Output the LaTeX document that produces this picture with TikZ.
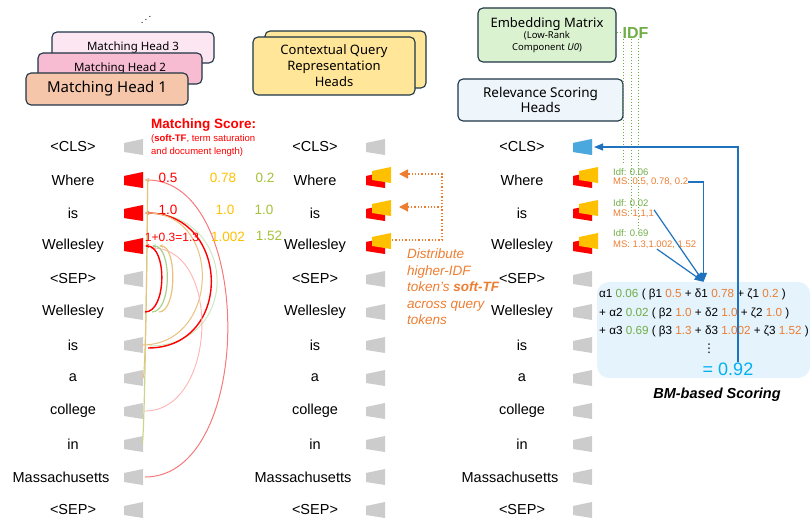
\documentclass[tikz,border=0pt]{standalone}
\usepackage{fontspec}
\setmainfont{Liberation Sans}
\newfontfamily\headfont{Noto Sans}
\newfontfamily\symfont{DejaVu Sans}
\usetikzlibrary{arrows.meta}

\definecolor{boxline}{HTML}{1E3445}
\definecolor{headone}{HTML}{F6C6AB}
\definecolor{headtwo}{HTML}{F7BCD1}
\definecolor{headthree}{HTML}{FCE6F2}
\definecolor{cqrfill}{HTML}{FFE699}
\definecolor{embfill}{HTML}{DAF2D0}
\definecolor{rshfill}{HTML}{EEF6FB}
\definecolor{tokgray}{HTML}{CCCCCC}
\definecolor{tokyellow}{HTML}{FFC000}
\definecolor{tokblue}{HTML}{4AA8DE}
\definecolor{idfgreen}{HTML}{70AD47}
\definecolor{msorange}{HTML}{ED7D31}
\definecolor{scoregreen}{HTML}{A5C03A}
\definecolor{arcsalmon}{HTML}{F47A7A}
\definecolor{arcpink}{HTML}{FFB3B3}
\definecolor{arctan}{HTML}{E8C27E}
\definecolor{arcgreen}{HTML}{A8D08D}
\definecolor{arclgreen}{HTML}{CDE8C0}
\definecolor{arcolive}{HTML}{C8D68E}
\definecolor{bluearrow}{HTML}{1F72BE}
\definecolor{fboxfill}{HTML}{E4F3FC}
\definecolor{resblue}{HTML}{00B0F0}

\newcommand{\tokshape}[3]{\fill[#3] ({#1},{#2-4}) -- ++(19,-4) -- ++(0,16) -- ++(-19,-3) -- cycle;}
\newcommand{\gn}[1]{\textcolor{idfgreen}{#1}}
\newcommand{\og}[1]{\textcolor{msorange}{#1}}

\tikzset{
  tok/.style={font=\fontsize{14.5}{16}\selectfont, inner sep=0pt},
  headbox/.style={draw=boxline, line width=1.1pt, rounded corners=5pt, inner sep=0pt},
  matcharc/.style={line width=#1, -{Stealth[length=4pt,width=3.5pt]}},
  score/.style={font=\fontsize{13.5}{15}\selectfont, inner sep=0pt},
  note/.style={font=\fontsize{9.5}{11}\selectfont, inner sep=0pt, anchor=west},
  fml/.style={font=\fontsize{11.7}{13}\selectfont, inner sep=0pt, anchor=base west},
  bluearr/.style={draw=bluearrow, line width=1.2pt, -{Triangle[length=9pt,width=7pt]}},
  orgdot/.style={draw=msorange, line width=1.3pt, dotted, -{Triangle[length=9pt,width=9pt]}},
  idfdot/.style={draw=idfgreen, line width=1pt, dotted}
}

\begin{document}
\begin{tikzpicture}[x=1pt,y=-1pt]
\useasboundingbox (0,0) rectangle (811,518);

% heads
\node[headbox, fill=headthree, minimum width=162pt, minimum height=31pt, font={\headfont\fontsize{11.5}{13}\selectfont}] (mh3) at (133,47.5) {Matching Head 3};
\node[headbox, fill=headtwo, minimum width=164pt, minimum height=31pt, font={\headfont\fontsize{11.5}{13}\selectfont}] (mh2) at (120,68.5) {Matching Head 2};
\node[headbox, fill=headone, minimum width=162pt, minimum height=32pt, font={\headfont\fontsize{15}{17}\selectfont}] (mh1) at (107,89) {Matching Head 1};
\node[inner sep=0pt] (hdots) at (146,17) {\reflectbox{$\ddots$}};

\node[headbox, fill=cqrfill, minimum width=161pt, minimum height=57pt] (cqr2) at (345.5,59.5) {};
\node[headbox, fill=cqrfill, minimum width=162pt, minimum height=58pt, align=center, font={\headfont\fontsize{13}{16}\selectfont}] (cqr1) at (334,66) {Contextual Query\\Representation\\Heads};

\node[headbox, fill=embfill, minimum width=138pt, minimum height=54pt, align=center, font=\headfont] (emb) at (547,35) {\fontsize{13}{14}\selectfont Embedding Matrix\\[-1pt]{\fontsize{9.5}{14}\selectfont (Low-Rank}\\{\fontsize{9.5}{14}\selectfont Component \textit{U0})}};
\node[headbox, fill=rshfill, minimum width=165pt, minimum height=42pt, align=center, font={\headfont\fontsize{13.5}{15}\selectfont}] (rsh) at (540.5,100) {Relevance Scoring\\Heads};

\node[font=\bfseries\fontsize{16}{18}\selectfont, text=idfgreen, inner sep=0pt] (idf) at (635.5,33) {IDF};
\draw[idfdot] (emb.east |- idf) -- (idf.west);
\draw[idfdot] ([xshift=-12pt]idf.south) -- ++(0,124);
\draw[idfdot] ([xshift=-4pt]idf.south) -- ++(0,176);
\draw[idfdot] ([xshift=3pt]idf.south) -- ++(0,190);

% token columns
\foreach \w/\dx [count=\i] in {<CLS>/+0,Where/+0,is/+0,Wellesley/+0,<SEP>/+0,Wellesley/+0,is/+0,a/+0,college/+0,in/+0,Massachusetts/-12,<SEP>/+0}{
  \pgfmathsetmacro{\yy}{147+33*(\i-1)}
  \foreach \cx/\cn in {124/l,366/m,573/r}{
    \node[tok] (\cn\i) at (\cx-51\dx,\yy) {\w};
    \tokshape{\cx}{\yy}{tokgray}
    \coordinate (\cn s\i) at (\cx+21,\yy);
  }
}
\foreach \i in {2,3,4}{
  \pgfmathsetmacro{\yy}{147+33*(\i-1)}
  \tokshape{124}{\yy}{red}
  \tokshape{366}{\yy}{red}
  \tokshape{372}{\yy-5}{tokyellow}
  \tokshape{573}{\yy}{red}
  \tokshape{579}{\yy-5}{tokyellow}
  \coordinate (my\i) at (399,\yy-6);
}
\tokshape{573}{147}{tokblue}

% matching arcs
\draw[matcharc=1pt, arcsalmon] (ls11) .. controls +(110,0) and +(110,0) .. (ls2);
\draw[matcharc=1.2pt, arcolive] ([xshift=-3pt]ls10) .. controls +(3,0) and +(3,0) .. (ls2);
\draw[matcharc=1pt, arctan] ([xshift=-2pt]ls8) .. controls +(3,0) and +(3,0) .. (ls2);
\draw[matcharc=1pt, arclgreen] ([shift={(4,1)}]ls7) .. controls +(93,0) and +(93,0) .. (ls3);
\draw[matcharc=1.4pt, red] ([shift={(3,3)}]ls7) .. controls +(86,0) and +(86,0) .. (ls3);
\draw[matcharc=1pt, arctan] ([xshift=-3pt]ls7) .. controls +(78,0) and +(78,0) .. (ls3);
\draw[matcharc=0.9pt, arcpink] (ls9) .. controls +(72,0) and +(72,0) .. ([shift={(5,2)}]ls4);
\draw[matcharc=1.4pt, red] (ls6) .. controls +(22,0) and +(22,0) .. (ls4);
\draw[matcharc=1.2pt, arcgreen] ([xshift=7pt]ls6) .. controls +(20,0) and +(20,0) .. ([xshift=7pt]ls4);
\draw[matcharc=1.2pt, arctan] ([xshift=14pt]ls6) .. controls +(18,0) and +(18,0) .. ([xshift=14pt]ls4);

% matching scores
\node[anchor=west, text=red, font=\bfseries\fontsize{13.5}{15}\selectfont, inner sep=0pt] (mstitle) at (151,125) {Matching Score:};
\node[anchor=north west, align=left, text=red, font=\fontsize{9.5}{13}\selectfont, inner sep=0pt] (msnote) at (151,134.5) {(\textbf{soft-TF}, term saturation\\and document length)};
\node[score, text=red] (s21) at (168,178) {0.5};
\node[score, text=tokyellow] (s22) at (223,178) {0.78};
\node[score, text=scoregreen] (s23) at (265,178) {0.2};
\node[score, text=red] (s31) at (168,210) {1.0};
\node[score, text=tokyellow] (s32) at (225,210) {1.0};
\node[score, text=scoregreen] (s33) at (264,210) {1.0};
\node[score, text=red, font=\fontsize{12}{14}\selectfont] (s41) at (172,237) {1+0.3=1.3};
\node[score, text=tokyellow] (s42) at (228,237) {1.002};
\node[score, text=scoregreen] (s43) at (269,236) {1.52};

% distribute soft-TF
\draw[orgdot] ([xshift=-7pt]my4) -- ++(50,0) coordinate (obend) |- (my2);
\draw[orgdot] (obend |- my3) -- (my3);
\node[anchor=north west, align=left, text=msorange, font=\itshape\fontsize{13.5}{16.5}\selectfont, inner sep=0pt] (dist) at (407,249) {Distribute\\higher-IDF\\token’s \textbf{soft-TF}\\across query\\tokens};

% relevance scoring
\node[note, text=idfgreen] (idf1) at (613,172) {Idf: 0.06};
\node[note, text=msorange] (ms1) at (613,182) {MS: 0.5, 0.78, 0.2};
\node[note, text=idfgreen] (idf2) at (613,203) {Idf: 0.02};
\node[note, text=msorange] (ms2) at (613,214) {MS: 1,1,1};
\node[note, text=idfgreen] (idf3) at (613,233) {Idf: 0.69};
\node[note, text=msorange] (ms3) at (613,245) {MS: 1.3,1.002, 1.52};

\node[fill=fboxfill, rounded corners=12pt, minimum width=213pt, minimum height=96pt, inner sep=0pt] (fbox) at (703.5,330) {};
\node[fml] (f1) at (599,298) {α1 \gn{0.06} ( β1 \og{0.5} + δ1 \og{0.78} + ζ1 \og{0.2} )};
\node[fml] (f2) at (599,316.5) {+ α2 \gn{0.02} ( β2 \og{1.0} + δ2 \og{1.0} + ζ2 \og{1.0} )};
\node[fml] (f3) at (599,335) {+ α3 \gn{0.69} ( β3 \og{1.3} + δ3 \og{1.002} + ζ3 \og{1.52} )};
\node[inner sep=0pt, font=\symfont\fontsize{12}{12}\selectfont] (fdots) at (709,349) {⋮};
\node[text=resblue, font=\fontsize{18}{20}\selectfont, inner sep=0pt] (res) at (728,369) {= 0.92};
\node[font=\bfseries\itshape\fontsize{14.5}{16}\selectfont, inner sep=0pt] (bm) at (717,395) {BM-based Scoring};

\draw[bluearr] (ms1.east) -| (fbox.north);
\draw[bluearr] (ms2.north east) -- (fbox.north);
\draw[bluearr] ([xshift=44pt]ms3.south west) -- (fbox.north);
\draw[bluearr] ([xshift=10pt]res.north) |- (rs1);
\end{tikzpicture}
\end{document}
